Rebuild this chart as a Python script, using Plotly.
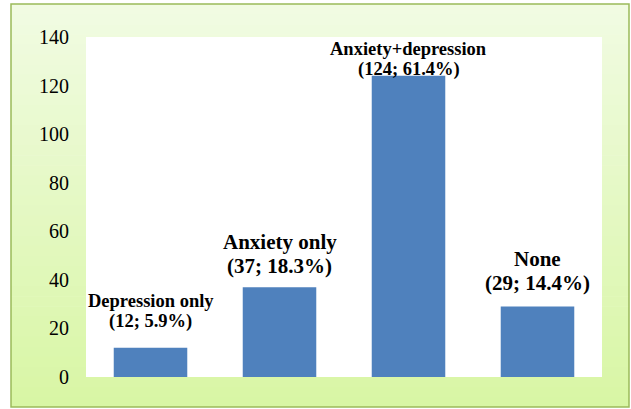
import plotly.graph_objects as go

# ---- data ----
categories = ["Depression only", "Anxiety only", "Anxiety+depression", "None"]
counts = [12, 37, 124, 29]
percents = [5.9, 18.3, 61.4, 14.4]
y_ticks = [0, 20, 40, 60, 80, 100, 120, 140]

# ---- style ----
SERIF = "'Times New Roman', 'Liberation Serif', Times, serif"
label_sizes = [18.5, 21, 18.5, 21]
line2_shift = [26, 21, 6, 24]
line_gap = [21, 24, 21, 24]
bar_color = "#4F81BD"
W, H = 631, 409
L, R, T, B = 86, 29, 37, 32
PW, PH = W - L - R, H - T - B

def px_x(px):
    return (px - L) / PW

def px_y(py):
    return (H - py - B) / PH

fig = go.Figure()
fig.add_trace(go.Bar(
    x=categories, y=counts,
    marker=dict(color=bar_color, line=dict(width=0)),
    hoverinfo="skip",
))

# label annotations
for cat, c, p, fs, s2, g in zip(categories, counts, percents, label_sizes, line2_shift, line_gap):
    font = dict(family=SERIF, size=fs, color="black", weight="bold")
    fig.add_annotation(x=cat, y=c, text=cat, showarrow=False, yanchor="middle",
                       yshift=s2 + g, font=font)
    fig.add_annotation(x=cat, y=c, text=f"({c}; {p}%)", showarrow=False, yanchor="middle",
                       yshift=s2, font=font)

# background frame with vertical gradient
shapes = []
top_rgb = (241, 251, 227)
bot_rgb = (216, 246, 164)
fx0, fx1, fy0, fy1 = 11, 629, 4, 407
N = 40
for i in range(N):
    t = (i + 0.5) / N
    col = tuple(round(top_rgb[k] + (bot_rgb[k] - top_rgb[k]) * t) for k in range(3))
    ya = fy0 + (fy1 - fy0) * i / N
    yb = fy0 + (fy1 - fy0) * (i + 1) / N + 0.6
    shapes.append(dict(type="rect", xref="paper", yref="paper",
                       x0=px_x(fx0), x1=px_x(fx1), y0=px_y(min(yb, fy1)), y1=px_y(ya),
                       fillcolor="rgb(%d,%d,%d)" % col, line=dict(width=0), layer="below"))
# white plot area
shapes.append(dict(type="rect", xref="paper", yref="paper", x0=0, x1=1, y0=0, y1=1,
                   fillcolor="white", line=dict(width=0), layer="below"))
# frame border
shapes.append(dict(type="rect", xref="paper", yref="paper",
                   x0=px_x(fx0), x1=px_x(fx1), y0=px_y(fy1), y1=px_y(fy0),
                   fillcolor="rgba(0,0,0,0)", line=dict(color="#9BBB59", width=1.5), layer="below"))

fig.update_layout(
    width=W, height=H,
    margin=dict(l=L, r=R, t=T, b=B, pad=0),
    paper_bgcolor="white",
    plot_bgcolor="white",
    showlegend=False,
    bargap=0.43,
    shapes=shapes,
    font=dict(family=SERIF),
    xaxis=dict(showticklabels=False, showgrid=False, zeroline=False, showline=False,
               ticks="", range=[-0.5, 3.5]),
    yaxis=dict(range=[0, 140], tickvals=y_ticks, showgrid=False, zeroline=False,
               showline=False, ticks="", ticklabelstandoff=16,
               tickfont=dict(family=SERIF, size=20, color="black")),
)

fig.write_html("out.html")
